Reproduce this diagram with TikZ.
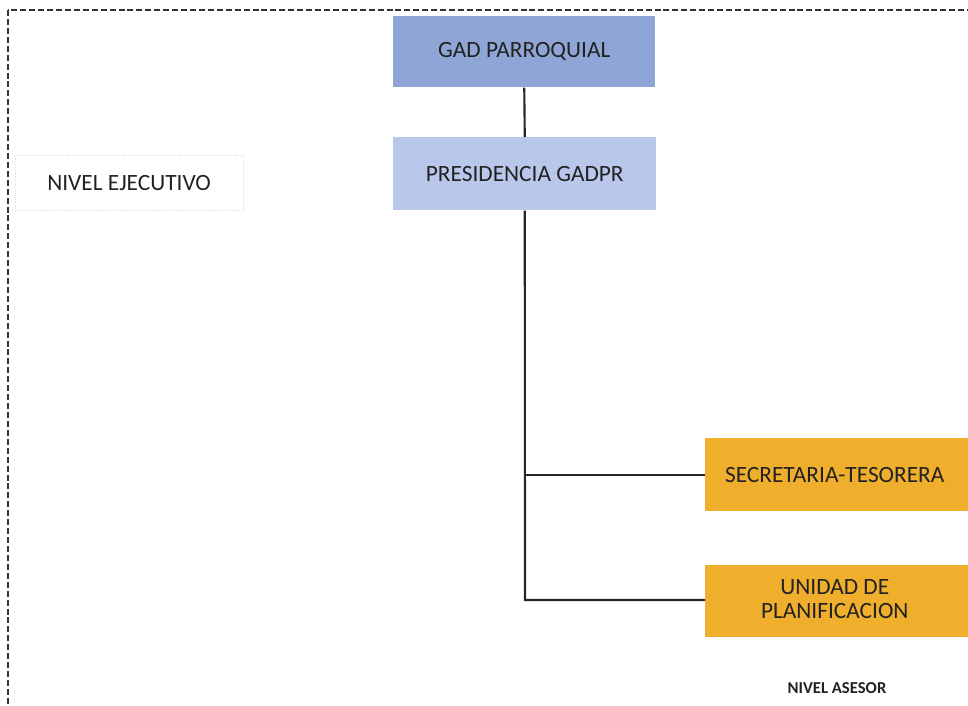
\documentclass[tikz,border=0pt]{standalone}
\usepackage{fontspec}
\setmainfont{Carlito}
\definecolor{gadblue}{HTML}{8FA5D6}
\definecolor{preblue}{HTML}{B8C7EA}
\definecolor{orangebox}{HTML}{EFAE2C}
\definecolor{txt}{HTML}{222222}
\begin{document}
\begin{tikzpicture}[x=0.75pt,y=-0.75pt,
  box/.style={draw=none,anchor=north west,inner sep=0pt,text=txt,font=\fontsize{17.5}{18}\selectfont,align=center},
  link/.style={line width=1.6pt,draw=black!85}]
\useasboundingbox (0,0) rectangle (968,706);
\begin{scope}
\clip (0,0) rectangle (968,706);
\draw[line width=1.6pt,draw=black!80,dash pattern=on 4.5pt off 2.2pt] (8,10) rectangle (990,730);
\node[box,fill=gadblue,minimum width=262*0.75pt,minimum height=71*0.75pt] (gad) at (393,16) {GAD PARROQUIAL};
\node[box,fill=preblue,minimum width=263*0.75pt,minimum height=73*0.75pt] (pre) at (393,137) {PRESIDENCIA GADPR};
\node[box,fill=orangebox,minimum width=275*0.75pt,minimum height=73*0.75pt] (sec) at (705,438) {\hspace*{-12pt}SECRETARIA-TESORERA};
\node[box,fill=orangebox,minimum width=275*0.75pt,minimum height=72*0.75pt] (uni) at (705,565) {\hspace*{-12pt}\begin{tabular}{@{}c@{}}UNIDAD DE\\[0pt]PLANIFICACION\end{tabular}};
\node[box,draw=black!12,densely dotted,minimum width=228*0.75pt,minimum height=55*0.75pt] (eje) at (15,155) {};
\node[text=txt,font=\fontsize{17.5}{18}\selectfont,inner sep=0pt,anchor=west] (ejet) at (47,183) {NIVEL EJECUTIVO};
\node[text=txt,font=\bfseries\fontsize{12.5}{14}\selectfont,inner sep=0pt] (ase) at (837,688) {NIVEL ASESOR};
\coordinate (j1) at (525,475);
\coordinate (j2) at (525,600);
\draw[link] (gad.south) -- (pre.north);
\draw[link] (pre.south) -- (j2) -- (uni.west|-j2);
\draw[link] (j1) -- (sec.west|-j1);
\end{scope}
\end{tikzpicture}
\end{document}
